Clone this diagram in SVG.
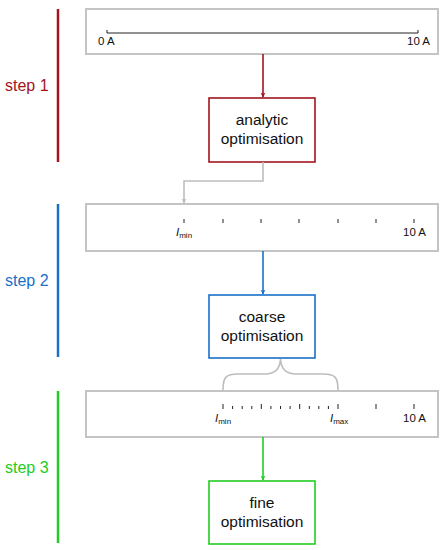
<svg xmlns="http://www.w3.org/2000/svg" width="444" height="550" viewBox="0 0 444 550">
<style>
text{font-family:"Liberation Sans",Arial,sans-serif;}
.scale{fill:#fff;stroke:#c4c4c4;stroke-width:2;}
.tick{stroke:#222;stroke-width:1;}
.lab{font-size:11.5px;fill:#111;}
.sub{font-size:8px;}
.step{font-size:16px;}
.box{fill:#fff;stroke-width:1.6;}
.bt{font-size:15.5px;fill:#111;text-anchor:middle;}
</style>
<defs>
<marker id="ar" viewBox="0 0 10 10" refX="9" refY="5" markerWidth="5" markerHeight="6" orient="auto" markerUnits="userSpaceOnUse"><path d="M0,0 L10,5 L0,10 L3,5 Z" fill="#a3141e"/></marker>
<marker id="ab" viewBox="0 0 10 10" refX="9" refY="5" markerWidth="5" markerHeight="6" orient="auto" markerUnits="userSpaceOnUse"><path d="M0,0 L10,5 L0,10 L3,5 Z" fill="#1a70c8"/></marker>
<marker id="ag" viewBox="0 0 10 10" refX="9" refY="5" markerWidth="5" markerHeight="6" orient="auto" markerUnits="userSpaceOnUse"><path d="M0,0 L10,5 L0,10 L3,5 Z" fill="#22cc22"/></marker>
<marker id="agr" viewBox="0 0 10 10" refX="9" refY="5" markerWidth="5" markerHeight="6" orient="auto" markerUnits="userSpaceOnUse"><path d="M0,0 L10,5 L0,10 L3,5 Z" fill="#bdbdbd"/></marker>
</defs>

<g id="step1-label">
<line x1="58" y1="9" x2="58" y2="162" stroke="#a3141e" stroke-width="2.5"/>
<text class="step" x="5" y="91" fill="#a3141e">step 1</text>
</g>
<g id="step2-label">
<line x1="58" y1="204" x2="58" y2="357" stroke="#1a70c8" stroke-width="2.5"/>
<text class="step" x="5" y="286" fill="#1a70c8">step 2</text>
</g>
<g id="step3-label">
<line x1="58" y1="391" x2="58" y2="543" stroke="#22cc22" stroke-width="2.5"/>
<text class="step" x="5" y="473" fill="#22cc22">step 3</text>
</g>

<g id="scale1">
<rect class="scale" x="86" y="9" width="352" height="45"/>
<path d="M107,30 V33 H418 V30" fill="none" stroke="#222" stroke-width="1"/>
<text class="lab" x="98" y="45">0 A</text>
<text class="lab" x="407" y="45">10 A</text>
</g>

<g id="analytic">
<rect class="box" x="209" y="98" width="106" height="64" stroke="#a3141e"/>
<text class="bt" x="262" y="125">analytic</text>
<text class="bt" x="262" y="144">optimisation</text>
</g>

<g id="scale2">
<rect class="scale" x="86" y="204" width="352" height="47"/>
<g class="tick">
<line x1="184" y1="219" x2="184" y2="223"/>
<line x1="223" y1="219" x2="223" y2="223"/>
<line x1="261" y1="219" x2="261" y2="223"/>
<line x1="299" y1="219" x2="299" y2="223"/>
<line x1="338" y1="219" x2="338" y2="223"/>
<line x1="376" y1="219" x2="376" y2="223"/>
<line x1="414" y1="219" x2="414" y2="223"/>
</g>
<text class="lab" x="176" y="236"><tspan font-style="italic">I</tspan><tspan class="sub" dy="2">min</tspan></text>
<text class="lab" x="403" y="236">10 A</text>
</g>

<g id="coarse">
<rect class="box" x="209" y="295" width="106" height="63" stroke="#1a70c8"/>
<text class="bt" x="262" y="322">coarse</text>
<text class="bt" x="262" y="341">optimisation</text>
</g>

<g id="scale3">
<rect class="scale" x="86" y="391" width="352" height="46"/>
<g class="tick">
<line x1="223" y1="404" x2="223" y2="409"/>
<line x1="232.6" y1="406" x2="232.6" y2="409"/>
<line x1="242.2" y1="406" x2="242.2" y2="409"/>
<line x1="251.8" y1="406" x2="251.8" y2="409"/>
<line x1="261.3" y1="404" x2="261.3" y2="409"/>
<line x1="270.9" y1="406" x2="270.9" y2="409"/>
<line x1="280.5" y1="406" x2="280.5" y2="409"/>
<line x1="290.1" y1="406" x2="290.1" y2="409"/>
<line x1="299.7" y1="404" x2="299.7" y2="409"/>
<line x1="309.3" y1="406" x2="309.3" y2="409"/>
<line x1="318.8" y1="406" x2="318.8" y2="409"/>
<line x1="328.4" y1="406" x2="328.4" y2="409"/>
<line x1="338" y1="404" x2="338" y2="409"/>
<line x1="376" y1="404" x2="376" y2="409"/>
<line x1="414" y1="404" x2="414" y2="409"/>
</g>
<text class="lab" x="215" y="422"><tspan font-style="italic">I</tspan><tspan class="sub" dy="2">min</tspan></text>
<text class="lab" x="330" y="422"><tspan font-style="italic">I</tspan><tspan class="sub" dy="2">max</tspan></text>
<text class="lab" x="403" y="422">10 A</text>
</g>

<g id="fine">
<rect class="box" x="209" y="481" width="106" height="63" stroke="#22cc22"/>
<text class="bt" x="262" y="508">fine</text>
<text class="bt" x="262" y="527">optimisation</text>
</g>

<g id="connectors" fill="none">
<line x1="263" y1="54" x2="263" y2="97" stroke="#a3141e" stroke-width="1.6" marker-end="url(#ar)"/>
<polyline points="263,162 263,181 184,181 184,203" stroke="#bdbdbd" stroke-width="1.6" marker-end="url(#agr)"/>
<line x1="263" y1="251" x2="263" y2="294" stroke="#1a70c8" stroke-width="1.6" marker-end="url(#ab)"/>
<path d="M223,390 C223,377 226,374 238,374 L265,374 C276,374 280,368 280.5,359 C281,368 285,374 296,374 L323,374 C335,374 338,377 338,390" stroke="#bdbdbd" stroke-width="1.6"/>
<line x1="263" y1="437" x2="263" y2="480" stroke="#22cc22" stroke-width="1.6" marker-end="url(#ag)"/>
</g>
</svg>
